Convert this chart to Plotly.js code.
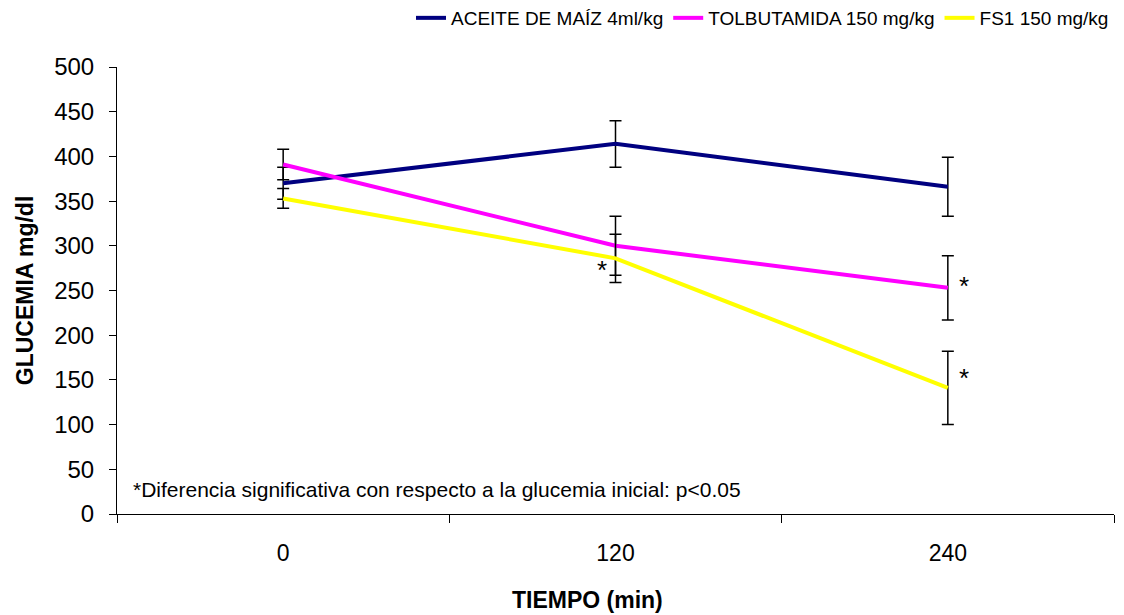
<!DOCTYPE html>
<html>
<head>
<meta charset="utf-8">
<script src="https://cdn.plot.ly/plotly-3.0.1.min.js"></script>
<style>html,body{margin:0;padding:0;background:#fff;}#chart{width:1124px;height:615px;}</style>
</head>
<body>
<div id="chart"></div>
<script>
const categories = ["0", "120", "240"];
const seriesNames = ["ACEITE DE MAÍZ 4ml/kg", "TOLBUTAMIDA 150 mg/kg", "FS1 150 mg/kg"];
const aceiteValues = [370, 414, 366];
const aceiteErrors = [18, 26, 33];
const tolbutamidaValues = [391, 300, 253];
const tolbutamidaErrors = [17, 33, 36];
const fs1Values = [353, 286, 141];
const fs1Errors = [11, 27, 41];
const yTicks = [0, 50, 100, 150, 200, 250, 300, 350, 400, 450, 500];
const markX = [0.96, 2.05, 2.05];
const markY = [275, 257, 154];
const footnote = "*Diferencia significativa con respecto a la glucemia inicial: p<0.05";

const FONT = "Liberation Sans, Arial, sans-serif";
const colors = ["#000080", "#FF00FF", "#FFFF00"];
const vals = [aceiteValues, tolbutamidaValues, fs1Values];
const errs = [aceiteErrors, tolbutamidaErrors, fs1Errors];

const traces = vals.map((v, i) => ({
  x: categories,
  y: v,
  name: seriesNames[i],
  type: "scatter",
  mode: "lines",
  line: {color: colors[i], width: 4},
  error_y: {type: "data", array: errs[i], visible: true, color: "#000000", thickness: 1.5, width: 6}
}));

const annotations = markX.map((x, i) => ({
  x: x, y: markY[i], xref: "x", yref: "y", text: "*", showarrow: false,
  font: {family: FONT, size: 26, color: "#000"}, yshift: -2
}));
annotations.push({
  x: (131 - 117) / 997, xref: "paper", xanchor: "left",
  y: (514 - 489) / 447, yref: "paper", yanchor: "middle",
  text: footnote, showarrow: false,
  font: {family: FONT, size: 21, color: "#000"}
});
annotations.push({
  x: (587 - 117) / 997, xref: "paper", xanchor: "center",
  y: -(600 - 514) / 447, yref: "paper", yanchor: "middle",
  text: "<b>TIEMPO (min)</b>", showarrow: false,
  font: {family: FONT, size: 23, color: "#000"}
});

const layout = {
  width: 1124, height: 615,
  margin: {l: 117, r: 10, t: 67, b: 101, autoexpand: false},
  paper_bgcolor: "#fff", plot_bgcolor: "#fff",
  font: {family: FONT, color: "#000"},
  showlegend: true,
  legend: {orientation: "h", x: 1, xanchor: "right", y: 1 + (67 - 18) / 447, yanchor: "middle",
           font: {size: 19, color: "#000"}, bgcolor: "rgba(0,0,0,0)", itemwidth: 30},
  xaxis: {type: "category", range: [-0.5, 2.5], tickson: "boundaries", ticks: "outside", ticklen: 8,
          tickcolor: "#000", showline: true, linecolor: "#000", linewidth: 1, showgrid: false, zeroline: false,
          tickfont: {size: 23}, ticklabelstandoff: 18},
  yaxis: {range: [0, 500], tickvals: yTicks, ticks: "outside", ticklen: 7, tickcolor: "#000",
          showline: true, linecolor: "#000", linewidth: 1, showgrid: false, zeroline: false,
          tickfont: {size: 24}, ticklabelstandoff: 10,
          title: {text: "<b>GLUCEMIA mg/dl</b>", font: {size: 23}, standoff: 14}},
  annotations: annotations
};

Plotly.newPlot("chart", traces, layout, {displayModeBar: false, staticPlot: true});
</script>
</body>
</html>
